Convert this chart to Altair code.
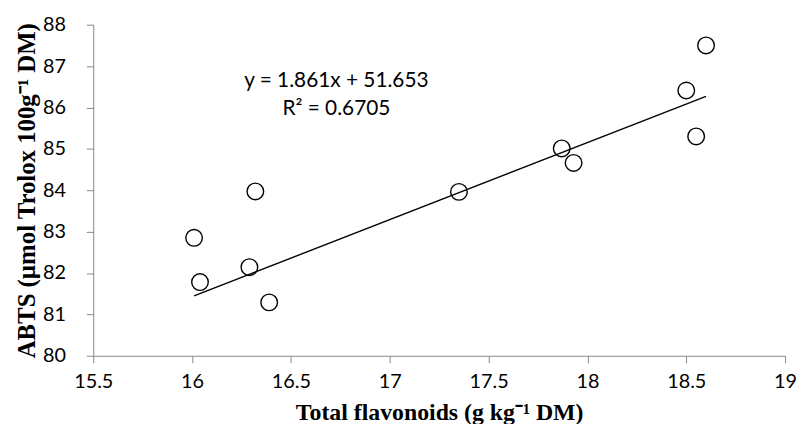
import altair as alt
import pandas as pd

# Data
flavonoids = [16.01, 16.04, 16.29, 16.32, 16.39, 17.35, 17.87, 17.93, 18.50, 18.55, 18.60]
abts = [82.85, 81.78, 82.14, 83.97, 81.29, 83.96, 85.01, 84.66, 86.41, 85.30, 87.50]

x_ticks = [15.5, 16, 16.5, 17, 17.5, 18, 18.5, 19]
y_ticks = [80, 81, 82, 83, 84, 85, 86, 87, 88]

slope = 1.861
intercept = 51.653
r_squared = "0.6705"

ann_text = ["y = 1.861x + 51.653", "R² = 0.6705"]
ann_x = [16.73, 16.73]
ann_y = [86.63, 85.96]

pts = pd.DataFrame({"x": flavonoids, "y": abts})
xmin, xmax = min(flavonoids), max(flavonoids)
trend = pd.DataFrame({"x": [xmin, xmax],
                      "y": [slope * xmin + intercept, slope * xmax + intercept]})
ann = pd.DataFrame({"t": ann_text, "x": ann_x, "y": ann_y})

axis_common = dict(
    domainColor="#868686", tickColor="#868686", tickSize=7, grid=False,
    labelFont="Lato", labelFontSize=20, labelColor="#000000", labelFlush=False,
    titleFont="Liberation Serif", titleFontWeight="bold", titleColor="#000000",
)

xscale = alt.Scale(domain=[15.5, 19], nice=False, zero=False)
yscale = alt.Scale(domain=[80, 88], nice=False, zero=False)

xaxis = alt.Axis(values=x_ticks, format=".1~f", labelPadding=9,
                 title="Total flavonoids (g kg⁻¹ DM)", titleFontSize=24,
                 titleX=349, titleY=64, titleBaseline="alphabetic",
                 titleAnchor="middle", titleAlign="center", **axis_common)
yaxis = alt.Axis(values=y_ticks, format="d", labelPadding=21,
                 title="ABTS (µmol Trolox 100g⁻¹ DM)", titleFontSize=25,
                 titleX=-59, titleY=167, titleAngle=270, titleBaseline="alphabetic",
                 titleAlign="center", **axis_common)

points = alt.Chart(pts).mark_point(
    shape="circle", filled=False, size=280, stroke="#000000", strokeWidth=1.4, opacity=1
).encode(
    x=alt.X("x:Q", scale=xscale, axis=xaxis),
    y=alt.Y("y:Q", scale=yscale, axis=yaxis),
)

line = alt.Chart(trend).mark_line(color="#000000", strokeWidth=1.4).encode(
    x=alt.X("x:Q", scale=xscale),
    y=alt.Y("y:Q", scale=yscale),
)

text = alt.Chart(ann).mark_text(
    font="Lato", fontSize=21, color="#000000", align="center", baseline="middle"
).encode(
    x=alt.X("x:Q", scale=xscale),
    y=alt.Y("y:Q", scale=yscale),
    text="t:N",
)

chart = alt.layer(line, points, text).properties(
    width=698, height=334,
    autosize=alt.AutoSizeParams(type="none"),
    padding={"left": 86, "top": 15, "right": 12, "bottom": 67},
).configure_view(stroke=None)

chart.save("out.html", embed_options={"renderer": "svg", "actions": False})
